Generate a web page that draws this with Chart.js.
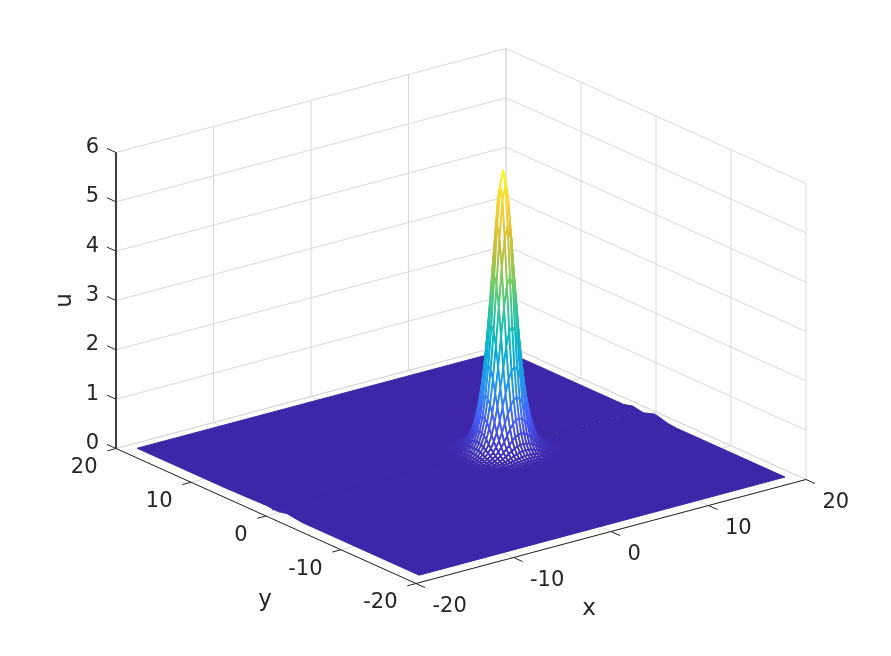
<!DOCTYPE html>
<html>
<head>
<meta charset="utf-8">
<style>
  html, body { margin: 0; padding: 0; background: #fff; }
  canvas { display: block; }
</style>
<script src="https://cdn.jsdelivr.net/npm/chart.js@4"></script>
</head>
<body>
<canvas id="myChart" width="891" height="656"></canvas>
<script>
const xTicks = [-20, -10, 0, 10, 20];
const yTicks = [-20, -10, 0, 10, 20];
const uTicks = [0, 1, 2, 3, 4, 5, 6];

const surfaceLow = -18.6;
const surfaceHigh = 19;

// where the peak sits and the mesh spacing round it
const peakX = 4.7;
const peakY = 0.5;
const meshStep = 0.3;

// u at mesh nodes away from the peak: row = larger offset, column = smaller offset
const peakHeights = [
  [5.67],
  [5.37, 5.08],
  [4.57, 4.33, 3.74],
  [3.56, 3.40, 2.96, 2.39],
  [2.58, 2.48, 2.20, 1.78, 1.39],
  [1.78, 1.72, 1.55, 1.28, 1.03, 0.76],
  [1.19, 1.15, 1.05, 0.89, 0.72, 0.55, 0.40],
  [0.78, 0.76, 0.70, 0.61, 0.49, 0.38, 0.29, 0.21],
  [0.50, 0.49, 0.45, 0.40, 0.32, 0.26, 0.20, 0.15, 0.11],
  [0.31, 0.30, 0.29, 0.26, 0.22, 0.18, 0.14, 0.105, 0.077, 0.057],
  [0.20, 0.20, 0.185, 0.165, 0.145, 0.115, 0.09, 0.07, 0.055, 0.04, 0.03],
  [0.124, 0.12, 0.115, 0.105, 0.09, 0.077, 0.063, 0.05, 0.038, 0.027, 0.02, 0.015],
  [0.078, 0.076, 0.072, 0.066, 0.06, 0.05, 0.042, 0.032, 0.026, 0.019, 0.015, 0.011, 0.007],
  [0.049, 0.048, 0.045, 0.042, 0.038, 0.032, 0.027, 0.022, 0.017, 0.013, 0.01, 0.007, 0.006, 0.004],
  [0.03, 0.03, 0.028, 0.027, 0.024, 0.02, 0.018, 0.014, 0.012, 0.009, 0.007, 0.006, 0.004, 0.003, 0.002],
  [0.019, 0.019, 0.018, 0.017, 0.016, 0.015, 0.012, 0.011, 0.009, 0.008, 0.006, 0.005, 0.004, 0.003, 0.002, 0]
];

// small bumps along the two long edges of the sheet: [y, u]
const nearEdge = [[-18.6, 0], [-3, 0], [-1, 0.04], [0.3, 0], [1.7, 0.02], [7, 0], [19, 0]];
const farEdge = [[-18.5, 0], [-4, 0], [-2.8, 0.02], [-1.2, 0.09], [0.4, 0.01], [1.8, 0.05], [3, 0], [19, 0]];

// the faint wake running along x through the peak, and the pale specks on it
const wakeY = 1;
const wakeEnds = [-18.6, 19];
const speckX = [10.6, 13.2, 13.7, 15, 16.3, 16.7, 17, 17.5, 18, 18.55];

const parulaStops = [0, 0.125, 0.25, 0.375, 0.5, 0.625, 0.75, 0.875, 1];
const parulaColors = [
  [62, 38, 168], [71, 91, 249], [39, 150, 235], [0, 177, 211], [42, 197, 161],
  [129, 204, 89], [212, 187, 51], [252, 204, 51], [249, 251, 21]
];

const textColor = '#262626';
const gridColor = '#d8d8d8';
const sheetColor = '#3e26a8';

// orthographic view of the box, page plane units
function project(x, y, u) {
  const a = (x + 20) / 40;
  const b = (y + 20) / 40;
  return {
    x: 416 + 390 * a - 300 * b,
    y: 583.5 - 104 * a - 135 * b - 296 * u / 6
  };
}

function colorFor(u) {
  const t = Math.min(1, Math.max(0, u / peakHeights[0][0]));
  let k = 0;
  while (k < parulaStops.length - 2 && t > parulaStops[k + 1]) k++;
  const f = (t - parulaStops[k]) / (parulaStops[k + 1] - parulaStops[k]);
  const c = parulaColors[k].map((v, n) => Math.round(v + (parulaColors[k + 1][n] - v) * f));
  return 'rgb(' + c.join(',') + ')';
}

function nodeHeight(i, j) {
  const a = Math.abs(i), b = Math.abs(j);
  return peakHeights[Math.max(a, b)][Math.min(a, b)];
}

function strokeLine(points, color, width) {
  return { data: points, showLine: true, borderColor: color, borderWidth: width, pointRadius: 0, fill: false, tension: 0 };
}

// mesh cells of the peak, nearest first so far ones are painted under them
const reach = peakHeights.length - 1;
const cells = [];
for (let i = -reach; i < reach; i++) {
  for (let j = -reach; j < reach; j++) {
    const corners = [[i, j], [i + 1, j], [i + 1, j + 1], [i, j + 1], [i, j]];
    const nodes = corners.map(([a, b]) => {
      const x = peakX + a * meshStep;
      const y = peakY + b * meshStep;
      const u = nodeHeight(a, b);
      return { p: project(x, y, u), u: u };
    });
    cells.push({ depth: 7.5 * (i + 0.5) + 9.75 * (j + 0.5), nodes: nodes });
  }
}
cells.sort((p, q) => p.depth - q.depth);

function cellBorder(nodes) {
  return function (context) {
    let hi = nodes[0], lo = nodes[0];
    nodes.forEach(n => {
      if (n.u > hi.u) hi = n;
      if (n.u < lo.u) lo = n;
    });
    if (hi.u - lo.u < 0.02) return colorFor(hi.u);
    // plane units are canvas pixels (scales run 0..891 and 0..656 over the full canvas)
    const g = context.chart.ctx.createLinearGradient(hi.p.x, hi.p.y, lo.p.x, lo.p.y);
    g.addColorStop(0, colorFor(hi.u));
    g.addColorStop(0.5, colorFor((hi.u + lo.u) / 2));
    g.addColorStop(1, colorFor(lo.u));
    return g;
  };
}

const datasets = [];

cells.forEach(c => {
  datasets.push({
    data: c.nodes.map(n => n.p),
    showLine: true,
    borderColor: cellBorder(c.nodes),
    borderWidth: 1.8,
    borderJoinStyle: 'round',
    backgroundColor: '#ffffff',
    fill: 'shape',
    pointRadius: 0,
    tension: 0
  });
});

// wake details sit on top of the sheet
datasets.push({
  data: speckX.map(x => project(x, wakeY, 0)),
  showLine: false, pointRadius: 0.6, pointBorderWidth: 0,
  pointBackgroundColor: 'rgba(125,110,205,0.6)'
});
datasets.push(strokeLine(wakeEnds.map(x => project(x, wakeY, 0)), '#3d26a6', 3));

// the flat sheet under the peak
const sheetOutline = []
  .concat(nearEdge.map(e => project(surfaceLow, e[0], e[1])))
  .concat(farEdge.slice().reverse().map(e => project(surfaceHigh, e[0], e[1])));
sheetOutline.push(sheetOutline[0]);
datasets.push({
  data: sheetOutline, showLine: true, borderColor: sheetColor, borderWidth: 1,
  backgroundColor: sheetColor, fill: 'shape', pointRadius: 0, tension: 0
});

// dark axes and their ticks
const axisPaths = [
  [project(-20, 20, 6), project(-20, 20, 0), project(-20, -20, 0), project(20, -20, 0)]
];
uTicks.forEach(u => axisPaths.push([project(-20, 20, u), project(-20, 21.2, u)]));
xTicks.forEach(x => axisPaths.push([project(x, -20, 0), project(x, -21.2, 0)]));
yTicks.forEach(y => axisPaths.push([project(-20, y, 0), project(-20.9, y, 0)]));
axisPaths.forEach(p => datasets.push(strokeLine(p, textColor, 1)));

// grid on the floor and the two back walls
const gridPaths = [];
xTicks.forEach(x => {
  gridPaths.push([project(x, -20, 0), project(x, 20, 0), project(x, 20, 6)]);
});
yTicks.forEach(y => {
  gridPaths.push([project(-20, y, 0), project(20, y, 0), project(20, y, 6)]);
});
uTicks.forEach(u => {
  gridPaths.push([project(-20, 20, u), project(20, 20, u), project(20, -20, u)]);
});
gridPaths.forEach(p => datasets.push(strokeLine(p, gridColor, 1)));

const boxText = {
  id: 'boxText',
  afterDraw(chart) {
    const { ctx, scales } = chart;
    const put = (text, p, dx, dy, align) => {
      ctx.textAlign = align;
      ctx.fillText(text, scales.x.getPixelForValue(p.x) + dx, scales.y.getPixelForValue(p.y) + dy);
    };
    ctx.save();
    ctx.fillStyle = textColor;
    ctx.textBaseline = 'middle';
    ctx.font = '21px "DejaVu Sans"';
    uTicks.forEach(u => put(String(u), project(-20, 20, u), -17, -5, 'right'));
    xTicks.forEach(x => put(String(x), project(x, -20, 0), 16.5, 23, 'left'));
    yTicks.forEach(y => put(String(y), project(-20, y, 0), -18.5, 19.5, 'right'));
    ctx.font = '23px "DejaVu Sans"';
    put('x', project(0, -20, 0), -22, 78, 'center');
    put('y', project(-20, 0, 0), -1, 84, 'center');
    const mid = project(-20, 20, 3);
    ctx.translate(scales.x.getPixelForValue(mid.x) - 51, scales.y.getPixelForValue(mid.y));
    ctx.rotate(-Math.PI / 2);
    ctx.textAlign = 'center';
    ctx.fillText('u', 0, 0);
    ctx.restore();
  }
};

const ctx = document.getElementById('myChart').getContext('2d');
const myChart = new Chart(ctx, {
  type: 'scatter',
  data: { datasets: datasets },
  options: {
    responsive: false,
    animation: false,
    events: [],
    layout: { padding: 0, autoPadding: false },
    plugins: { legend: { display: false }, tooltip: { enabled: false } },
    scales: {
      x: { type: 'linear', display: false, min: 0, max: 891 },
      y: { type: 'linear', display: false, min: 0, max: 656, reverse: true }
    }
  },
  plugins: [boxText]
});
</script>
</body>
</html>
